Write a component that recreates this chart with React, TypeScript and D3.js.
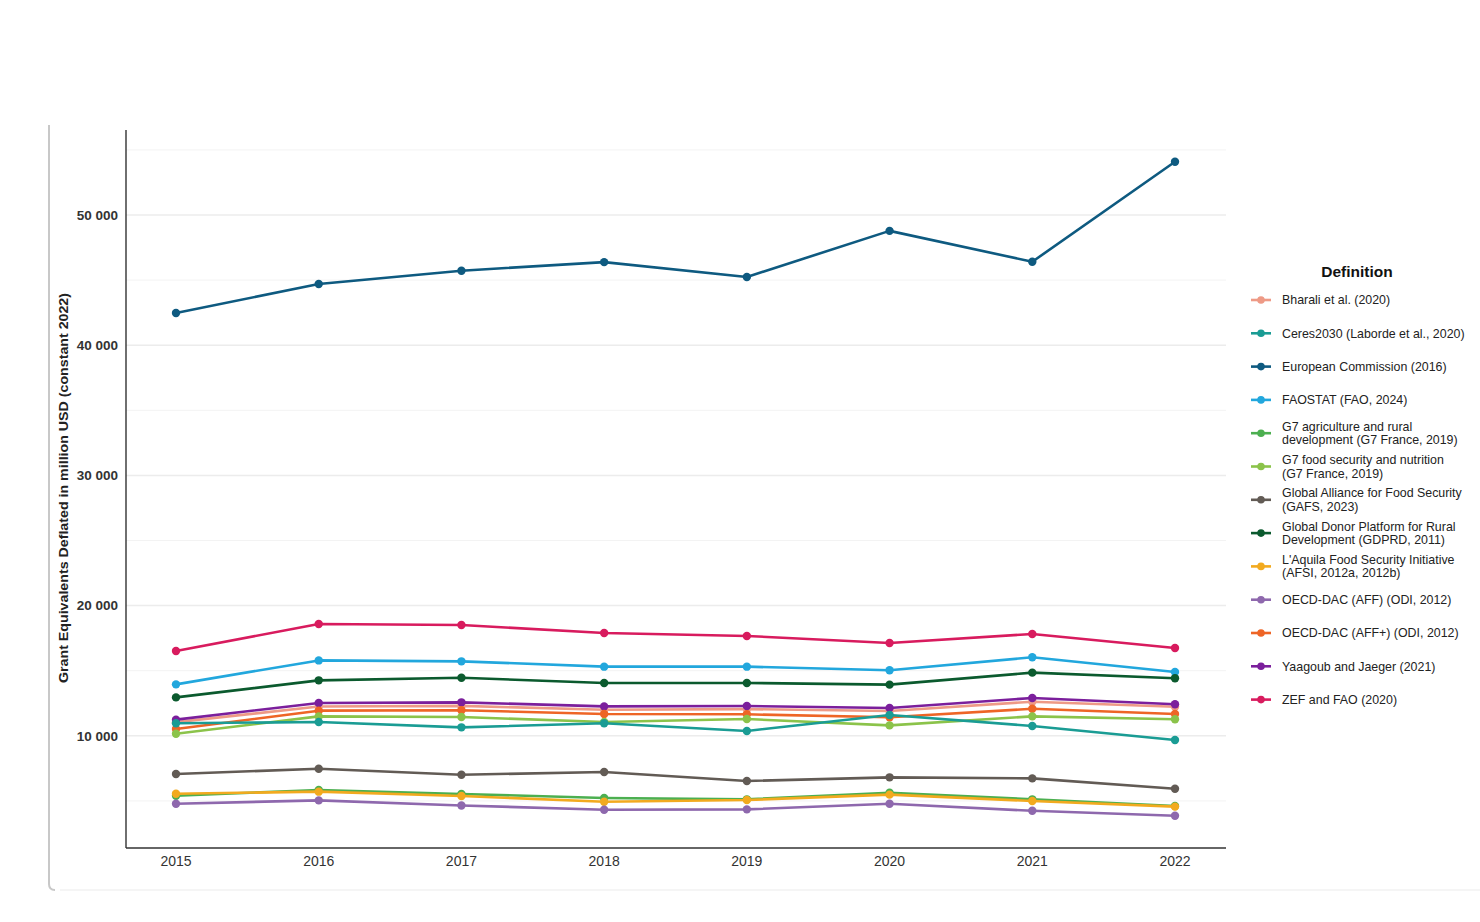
import React from "react";
import * as d3 from "d3";

const years = [2015, 2016, 2017, 2018, 2019, 2020, 2021, 2022];

const seriesNames = [
  "Bharali et al. (2020)",
  "Ceres2030 (Laborde et al., 2020)",
  "European Commission (2016)",
  "FAOSTAT (FAO, 2024)",
  "G7 agriculture and rural development (G7 France, 2019)",
  "G7 food security and nutrition (G7 France, 2019)",
  "Global Alliance for Food Security (GAFS, 2023)",
  "Global Donor Platform for Rural Development (GDPRD, 2011)",
  "L'Aquila Food Security Initiative (AFSI, 2012a, 2012b)",
  "OECD-DAC (AFF) (ODI, 2012)",
  "OECD-DAC (AFF+) (ODI, 2012)",
  "Yaagoub and Jaeger (2021)",
  "ZEF and FAO (2020)",
];

const legendLines = [
  ["Bharali et al. (2020)"],
  ["Ceres2030 (Laborde et al., 2020)"],
  ["European Commission (2016)"],
  ["FAOSTAT (FAO, 2024)"],
  ["G7 agriculture and rural", "development (G7 France, 2019)"],
  ["G7 food security and nutrition", "(G7 France, 2019)"],
  ["Global Alliance for Food Security", "(GAFS, 2023)"],
  ["Global Donor Platform for Rural", "Development (GDPRD, 2011)"],
  ["L'Aquila Food Security Initiative", "(AFSI, 2012a, 2012b)"],
  ["OECD-DAC (AFF) (ODI, 2012)"],
  ["OECD-DAC (AFF+) (ODI, 2012)"],
  ["Yaagoub and Jaeger (2021)"],
  ["ZEF and FAO (2020)"],
];

const seriesColors = [
  "#EE9A86",
  "#1A9C94",
  "#0E5A80",
  "#22A7DD",
  "#4CAF50",
  "#8BC34A",
  "#625B55",
  "#0B5A2E",
  "#F2AA1F",
  "#8E68AD",
  "#EE6526",
  "#7B1F9C",
  "#D81B5E",
];

const bharali = [11050, 12250, 12300, 12000, 12050, 11900, 12620, 12230];
const ceres = [10960, 11060, 10650, 10960, 10370, 11600, 10750, 9680];
const europeanCommission = [42470, 44700, 45720, 46380, 45240, 48780, 46410, 54090];
const faostat = [13950, 15790, 15720, 15310, 15310, 15030, 16030, 14900];
const g7Agri = [5400, 5840, 5530, 5220, 5120, 5630, 5120, 4610];
const g7Food = [10160, 11490, 11440, 11060, 11290, 10800, 11490, 11270];
const gafs = [7070, 7470, 7010, 7220, 6530, 6810, 6730, 5930];
const gdprd = [12950, 14260, 14460, 14060, 14060, 13930, 14850, 14420];
const aquila = [5550, 5710, 5380, 4930, 5070, 5480, 4990, 4560];
const oecdAff = [4780, 5040, 4650, 4320, 4350, 4780, 4240, 3860];
const oecdAffPlus = [10520, 11930, 11960, 11670, 11650, 11420, 12080, 11670];
const yaagoub = [11240, 12520, 12570, 12260, 12290, 12140, 12900, 12420];
const zef = [16510, 18590, 18510, 17900, 17670, 17130, 17820, 16740];

const seriesValues = [
  bharali, ceres, europeanCommission, faostat, g7Agri, g7Food, gafs,
  gdprd, aquila, oecdAff, oecdAffPlus, yaagoub, zef,
];

const yMajorTicks = [10000, 20000, 30000, 40000, 50000];
const yMinorTicks = [5000, 15000, 25000, 35000, 45000, 55000];

const FONT = "'Liberation Sans', Arial, Helvetica, sans-serif";

export default function App() {
  const width = 1480;
  const height = 922;
  const left = 126;
  const right = 1226;
  const top = 130;
  const bottom = 848;

  const x = d3.scalePoint<number>().domain(years).range([176, 1175]);
  const y = d3.scaleLinear().domain([0, 50000]).range([866, 215]);

  const line = d3
    .line<number>()
    .x((_, i) => x(years[i]) as number)
    .y((v) => y(v));

  const fmt = (v: number) => d3.format(",")(v).replace(/,/g, " ");

  const drawOrder = [2, 12, 3, 7, 0, 11, 10, 5, 1, 6, 4, 8, 9];

  return (
    <svg
      width={width}
      height={height}
      style={{ position: "absolute", left: 0, top: 0, background: "#fff" }}
      fontFamily={FONT}
    >
      <rect x={0} y={0} width={width} height={height} fill="#fff" />
      {/* left frame */}
      <path
        d="M49,125 L49,884 Q49,890 55,890"
        fill="none"
        stroke="#c8c8c8"
        strokeWidth={2}
      />
      <line x1={60} x2={1480} y1={890} y2={890} stroke="#f5f5f5" strokeWidth={2} />

      {/* grid */}
      {yMinorTicks.map((t) => (
        <line key={"mi" + t} x1={left} x2={right} y1={y(t)} y2={y(t)} stroke="#f3f3f3" strokeWidth={1} />
      ))}
      {yMajorTicks.map((t) => (
        <line key={"ma" + t} x1={left} x2={right} y1={y(t)} y2={y(t)} stroke="#ececec" strokeWidth={1.5} />
      ))}

      {/* axes */}
      <line x1={left} x2={left} y1={top} y2={bottom} stroke="#222" strokeWidth={1.3} />
      <line x1={left} x2={right} y1={bottom} y2={bottom} stroke="#333" strokeWidth={1.3} />

      {yMajorTicks.map((t) => (
        <text
          key={"yl" + t}
          x={118}
          y={y(t)}
          dy="0.35em"
          textAnchor="end"
          fontSize={13.5}
          fontWeight="bold"
          fill="#333"
        >
          {fmt(t)}
        </text>
      ))}
      {years.map((yr) => (
        <text
          key={"xl" + yr}
          x={x(yr)}
          y={866}
          textAnchor="middle"
          fontSize={14}
          fill="#333"
        >
          {yr}
        </text>
      ))}

      <text
        transform={`translate(68,488) rotate(-90)`}
        textAnchor="middle"
        fontSize={13}
        fontWeight="bold"
        fill="#222"
        textLength={390}
        lengthAdjust="spacingAndGlyphs"
      >
        Grant Equivalents Deflated in million USD (constant 2022)
      </text>

      {/* series */}
      {drawOrder.map((si) => (
        <g key={"s" + si}>
          <path
            d={line(seriesValues[si]) || ""}
            fill="none"
            stroke={seriesColors[si]}
            strokeWidth={2.6}
            strokeLinejoin="round"
          />
          {seriesValues[si].map((v, i) => (
            <circle key={i} cx={x(years[i])} cy={y(v)} r={4.2} fill={seriesColors[si]} />
          ))}
        </g>
      ))}

      {/* legend */}
      <text x={1357} y={277} textAnchor="middle" fontSize={15.5} fontWeight="bold" fill="#111">
        Definition
      </text>
      {seriesNames.map((name, i) => {
        const cy = 300 + i * 33.3;
        const lines = legendLines[i];
        return (
          <g key={"lg" + name}>
            <line x1={1251} x2={1271} y1={cy} y2={cy} stroke={seriesColors[i]} strokeWidth={2.6} />
            <circle cx={1261} cy={cy} r={3.8} fill={seriesColors[i]} />
            {lines.map((l, j) => (
              <text
                key={j}
                x={1282}
                y={cy + (j - (lines.length - 1) / 2) * 13.4}
                dy="0.35em"
                fontSize={12.4}
                fill="#222"
              >
                {l}
              </text>
            ))}
          </g>
        );
      })}
    </svg>
  );
}
